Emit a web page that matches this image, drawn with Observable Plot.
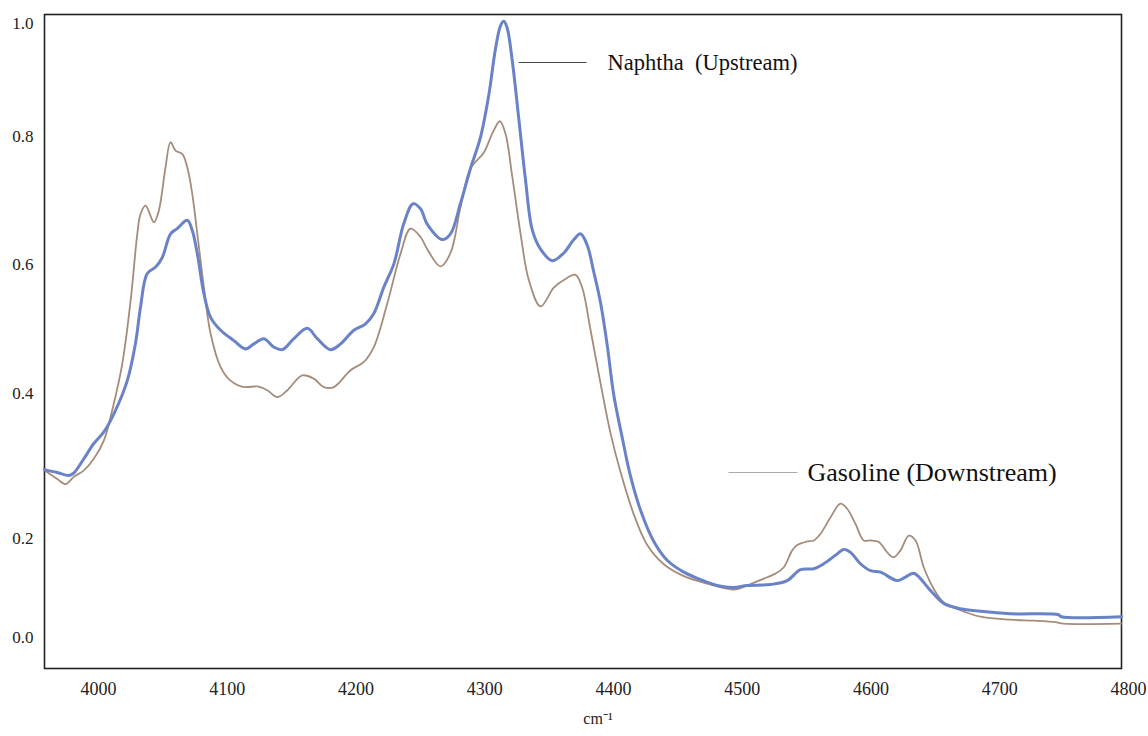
<!DOCTYPE html>
<html>
<head>
<meta charset="utf-8">
<script src="https://cdn.jsdelivr.net/npm/d3@7"></script>
<script src="https://cdn.jsdelivr.net/npm/@observablehq/plot@0.6"></script>
<style>
  html, body { margin: 0; padding: 0; background: #fff; }
</style>
</head>
<body>
<div id="chart"></div>
<script>
// Naphtha (Upstream) spectrum
const naphthaX = [3958.0, 3967.9, 3976.9, 3980.6, 3988.6, 3996.3, 4004.1, 4011.9, 4022.3, 4028.7,
  4032.6, 4037.8, 4044.3, 4049.5, 4055.9, 4061.1, 4068.9, 4072.8, 4076.7, 4081.8,
  4087.0, 4094.8, 4105.1, 4114.2, 4120.6, 4128.4, 4136.2, 4142.7, 4151.7, 4162.1,
  4169.9, 4180.2, 4188.0, 4198.3, 4207.4, 4213.8, 4221.6, 4229.4, 4237.1, 4244.3,
  4250.1, 4255.3, 4266.9, 4273.4, 4281.2, 4288.9, 4296.7, 4303.1, 4308.3, 4312.2,
  4314.8, 4317.4, 4321.3, 4326.4, 4331.6, 4336.9, 4343.3, 4352.4, 4361.4, 4369.2,
  4374.4, 4379.6, 4384.7, 4389.9, 4395.1, 4400.2, 4406.8, 4413.2, 4421.0, 4431.3,
  4441.7, 4454.6, 4467.6, 4480.5, 4493.4, 4503.8, 4521.9, 4534.9, 4545.2, 4555.6,
  4563.3, 4572.4, 4578.9, 4584.1, 4591.8, 4599.6, 4607.4, 4620.3, 4626.8, 4633.2,
  4638.4, 4646.2, 4656.5, 4669.5, 4685.0, 4708.3, 4745.6, 4748.0, 4794.6];
const naphthaY = [0.295, 0.291, 0.287, 0.290, 0.310, 0.331, 0.347, 0.372, 0.420, 0.478,
  0.534, 0.586, 0.596, 0.611, 0.648, 0.656, 0.669, 0.653, 0.617, 0.555,
  0.518, 0.498, 0.482, 0.469, 0.477, 0.485, 0.472, 0.468, 0.485, 0.501,
  0.485, 0.468, 0.477, 0.498, 0.508, 0.524, 0.565, 0.601, 0.664, 0.695,
  0.687, 0.663, 0.639, 0.648, 0.696, 0.750, 0.799, 0.873, 0.955, 0.996,
  1.004, 0.992, 0.935, 0.832, 0.733, 0.654, 0.624, 0.606, 0.618, 0.639,
  0.648, 0.630, 0.588, 0.541, 0.475, 0.398, 0.339, 0.286, 0.239, 0.194,
  0.156, 0.132, 0.117, 0.105, 0.101, 0.105, 0.107, 0.115, 0.137, 0.139,
  0.149, 0.166, 0.178, 0.172, 0.149, 0.135, 0.132, 0.115, 0.122, 0.130,
  0.119, 0.095, 0.069, 0.058, 0.053, 0.048, 0.046, 0.042, 0.042];

// Gasoline (Downstream) spectrum
const gasolineX = [3958.0, 3967.9, 3974.4, 3980.8, 3988.6, 3996.3, 4004.1, 4010.6, 4018.4, 4024.9,
  4030.1, 4032.6, 4036.5, 4043.0, 4046.8, 4052.0, 4055.9, 4059.8, 4065.0, 4068.9,
  4072.8, 4076.7, 4081.8, 4087.0, 4094.8, 4102.5, 4112.9, 4123.3, 4131.0, 4138.8,
  4146.6, 4158.2, 4167.2, 4175.0, 4182.8, 4195.7, 4206.1, 4213.8, 4224.2, 4234.6,
  4242.3, 4250.1, 4255.3, 4265.6, 4273.4, 4281.2, 4288.9, 4299.3, 4305.8, 4311.7,
  4316.1, 4321.3, 4327.8, 4334.2, 4343.3, 4353.6, 4361.4, 4370.5, 4375.7, 4382.1,
  4389.9, 4397.7, 4405.4, 4415.8, 4426.2, 4439.1, 4454.6, 4472.8, 4493.4, 4506.4,
  4516.7, 4525.8, 4532.3, 4538.8, 4542.7, 4550.4, 4555.6, 4560.8, 4568.5, 4576.3,
  4581.5, 4588.0, 4594.4, 4599.6, 4606.1, 4612.6, 4617.7, 4622.9, 4629.4, 4634.6,
  4641.0, 4648.8, 4656.5, 4669.5, 4685.0, 4708.3, 4726.2, 4743.3, 4749.5, 4794.6];
const gasolineY = [0.294, 0.282, 0.275, 0.285, 0.294, 0.310, 0.335, 0.377, 0.446, 0.544,
  0.648, 0.679, 0.692, 0.666, 0.684, 0.752, 0.791, 0.778, 0.773, 0.752,
  0.710, 0.648, 0.565, 0.493, 0.441, 0.420, 0.410, 0.411, 0.405, 0.395,
  0.405, 0.428, 0.423, 0.410, 0.410, 0.436, 0.449, 0.472, 0.539, 0.617,
  0.656, 0.643, 0.624, 0.597, 0.618, 0.690, 0.750, 0.775, 0.805, 0.827,
  0.805, 0.738, 0.648, 0.576, 0.535, 0.564, 0.576, 0.584, 0.564, 0.499,
  0.416, 0.345, 0.292, 0.233, 0.187, 0.148, 0.124, 0.109, 0.097, 0.108,
  0.119, 0.129, 0.142, 0.176, 0.187, 0.194, 0.196, 0.2065, 0.229, 0.248,
  0.241, 0.220, 0.196, 0.196, 0.193, 0.172, 0.162, 0.176, 0.204, 0.196,
  0.142, 0.098, 0.071, 0.055, 0.042, 0.036, 0.034, 0.031, 0.028, 0.028];

// Axis ticks (the original axis has unevenly spaced y tick labels)
const xTicks = [4000, 4100, 4200, 4300, 4400, 4500, 4600, 4700, 4800];
const yTicks = [0.0, 0.2, 0.4, 0.6, 0.8, 1.0];
// spacing of the y tick labels along the axis, as drawn in the original (axis units from the bottom of the frame)
const yTickSpacing = [31, 130, 275, 404, 532, 645];

// Annotation labels
const labelTexts = ["Naphtha\u00a0 (Upstream)", "Gasoline (Downstream)"];
const labelX = [4395.3, 4550.7];
const labelY = [0.931, 0.291];
const leaderX1 = [4326.3, 4489.3];
const leaderX2 = [4379.0, 4542.9];
const axisTitle = "cm\u207B\u00B9";

// piecewise mapping of absorbance onto the unevenly spaced axis
const piece = d3.scaleLinear().domain(yTicks).range(yTickSpacing);

const naphtha = naphthaX.map((x, i) => ({x, y: naphthaY[i]}));
const gasoline = gasolineX.map((x, i) => ({x, y: gasolineY[i]}));
const labels = labelTexts.map((t, i) => ({t, x: labelX[i], y: labelY[i], x1: leaderX1[i], x2: leaderX2[i], i}));

const Y = d => piece(d.y);

const chart = Plot.plot({
  width: 1148,
  height: 736,
  marginTop: 14,
  marginRight: 27,
  marginBottom: 68,
  marginLeft: 44,
  style: {fontFamily: "'Liberation Serif', 'Times New Roman', serif", background: "#fff", color: "#222"},
  x: {domain: [3958, 4794.6]},
  y: {domain: [0, 654]},
  marks: [
    Plot.frame({stroke: "#222", strokeWidth: 1.6}),
    Plot.axisY({ticks: yTicks.map(v => piece(v)), tickFormat: v => d3.format(".1f")(piece.invert(v)),
      tickSize: 0, tickPadding: 11, fontSize: 17, label: null}),
    Plot.axisX({ticks: xTicks, tickFormat: d3.format("d"), tickSize: 0, tickPadding: 14, fontSize: 18, label: null}),
    Plot.line(gasoline, {x: "x", y: Y, stroke: "#a68c7b", strokeWidth: 1.8, curve: "catmull-rom"}),
    Plot.line(naphtha, {x: "x", y: Y, stroke: "#6a82c8", strokeWidth: 3, curve: "catmull-rom"}),
    Plot.link(labels, {x1: "x1", x2: "x2", y1: Y, y2: Y,
      stroke: d => d.i === 0 ? "#444" : "#aaa", strokeWidth: 1.1}),
    Plot.text(labels, {x: "x", y: Y, text: "t", textAnchor: "start",
      fontSize: d => d.i === 0 ? 22.5 : 26, fill: "#111"}),
    Plot.text([axisTitle], {frameAnchor: "bottom", text: d => d, dx: 15, dy: 55, fontSize: 16, fill: "#222"})
  ]
});

document.getElementById("chart").appendChild(chart);
</script>
</body>
</html>
